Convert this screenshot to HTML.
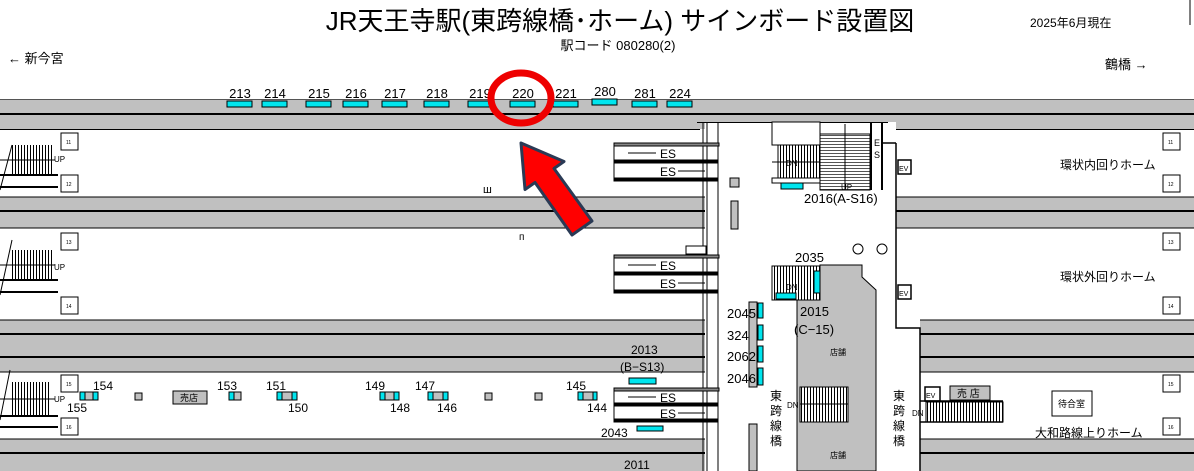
<!DOCTYPE html>
<html><head><meta charset="utf-8"><style>
body{margin:0;background:#fff}
svg{display:block}
text{font-family:"Liberation Sans","Noto Sans CJK JP",sans-serif;fill:#000}
</style></head><body>
<svg width="1194" height="471" viewBox="0 0 1194 471" xmlns="http://www.w3.org/2000/svg">
<defs>
<pattern id="st" width="3" height="10" patternUnits="userSpaceOnUse"><rect width="3" height="10" fill="#fff"/><rect width="1" height="10" fill="#000"/></pattern>
<pattern id="sh" width="10" height="3" patternUnits="userSpaceOnUse"><rect width="10" height="3" fill="#fff"/><rect width="10" height="1" fill="#555"/></pattern>
</defs>
<!-- header -->
<text x="620" y="30" font-size="26" text-anchor="middle">JR天王寺駅(東跨線橋･ホーム) サインボード設置図</text>
<text x="618" y="50" font-size="13" text-anchor="middle">駅コード 080280(2)</text>
<text x="1030" y="27" font-size="12">2025年6月現在</text>
<text x="8" y="63" font-size="13">← 新今宮</text>
<text x="1105" y="69" font-size="13">鶴橋 →</text>
<line x1="1190" y1="0" x2="1190" y2="25" stroke="#000"/>

<!-- bands -->
<rect x="0" y="99" width="1194" height="30" fill="#c0c0c0"/>
<line x1="0" y1="99.5" x2="1194" y2="99.5" stroke="#555"/>
<line x1="0" y1="114" x2="1194" y2="114" stroke="#000" stroke-width="2"/>
<line x1="0" y1="129.5" x2="700" y2="129.5" stroke="#000"/>
<line x1="896" y1="129.5" x2="1194" y2="129.5" stroke="#000"/>

<rect x="0" y="197" width="718" height="31" fill="#c0c0c0"/>
<rect x="896" y="197" width="298" height="31" fill="#c0c0c0"/>
<line x1="0" y1="211" x2="718" y2="211" stroke="#000" stroke-width="2"/>
<line x1="896" y1="211" x2="1194" y2="211" stroke="#000" stroke-width="2"/>
<line x1="0" y1="197" x2="718" y2="197" stroke="#000"/><line x1="896" y1="197" x2="1194" y2="197" stroke="#000"/>
<line x1="0" y1="228" x2="718" y2="228" stroke="#000"/><line x1="896" y1="228" x2="1194" y2="228" stroke="#000"/>

<rect x="0" y="320" width="718" height="52" fill="#c0c0c0"/>
<rect x="920" y="320" width="274" height="52" fill="#c0c0c0"/>
<line x1="0" y1="320" x2="718" y2="320" stroke="#000"/><line x1="920" y1="320" x2="1194" y2="320" stroke="#000"/>
<line x1="0" y1="334" x2="718" y2="334" stroke="#000" stroke-width="2"/><line x1="920" y1="334" x2="1194" y2="334" stroke="#000" stroke-width="2"/>
<line x1="0" y1="357" x2="718" y2="357" stroke="#000" stroke-width="2"/><line x1="920" y1="357" x2="1194" y2="357" stroke="#000" stroke-width="2"/>
<line x1="0" y1="372" x2="718" y2="372" stroke="#000"/><line x1="920" y1="372" x2="1194" y2="372" stroke="#000"/>

<rect x="0" y="439" width="718" height="32" fill="#c0c0c0"/>
<rect x="920" y="439" width="274" height="32" fill="#c0c0c0"/>
<line x1="0" y1="439" x2="718" y2="439" stroke="#000"/><line x1="920" y1="439" x2="1194" y2="439" stroke="#000"/>
<line x1="0" y1="453" x2="718" y2="453" stroke="#000" stroke-width="2"/><line x1="920" y1="453" x2="1194" y2="453" stroke="#000" stroke-width="2"/>

<!-- central bridge area -->
<rect x="705" y="122" width="191" height="198" fill="#fff"/>
<rect x="705" y="300" width="215" height="171" fill="#fff"/>
<line x1="697" y1="122.5" x2="888" y2="122.5" stroke="#000"/>
<line x1="703" y1="122" x2="703" y2="471" stroke="#000"/>
<line x1="707" y1="122" x2="707" y2="471" stroke="#000"/>
<line x1="718" y1="122" x2="718" y2="471" stroke="#000"/>
<polyline points="896,143 896,328 920,328 920,471" fill="none" stroke="#000" stroke-width="1.5"/>
<polyline points="882,143 896,143" fill="none" stroke="#000" stroke-width="1.5"/>

<!-- upper stairs -->
<rect x="772" y="122" width="48" height="23" fill="#fff" stroke="#000"/>
<rect x="778" y="145" width="42" height="33" fill="url(#st)" stroke="#000"/>
<line x1="772" y1="162" x2="820" y2="162" stroke="#000"/>
<rect x="772" y="178" width="48" height="5" fill="#fff" stroke="#000"/>
<rect x="820" y="134" width="50" height="56" fill="url(#sh)" stroke="#000"/>
<line x1="845" y1="124" x2="845" y2="190" stroke="#000"/>
<line x1="871" y1="122" x2="871" y2="190" stroke="#000" stroke-width="2"/>
<line x1="882" y1="122" x2="882" y2="190" stroke="#000" stroke-width="2"/>
<text x="874" y="146" font-size="9" fill="#333">E</text><text x="874" y="158" font-size="9" fill="#333">S</text>
<text x="786" y="166" font-size="8">DN</text>
<text x="841" y="190" font-size="8">UP</text>
<rect x="781" y="183" width="22" height="6" fill="#00e5ee" stroke="#000"/>
<text x="804" y="203" font-size="13">2016(A-S16)</text>
<rect x="898" y="160" width="13" height="14" fill="#fff" stroke="#000" stroke-width="1.5"/><text x="899" y="171" font-size="7">EV</text>
<rect x="898" y="285" width="13" height="14" fill="#fff" stroke="#000" stroke-width="1.5"/><text x="899" y="296" font-size="7">EV</text>
<rect x="730" y="178" width="9" height="9" fill="#c0c0c0" stroke="#000"/>
<rect x="731" y="201" width="7" height="28" fill="#c0c0c0" stroke="#000"/>
<circle cx="858" cy="249" r="5" fill="#fff" stroke="#000"/>
<circle cx="882" cy="249" r="5" fill="#fff" stroke="#000"/>

<!-- shop block -->
<polygon points="797,300 797,471 876,471 876,290 862,277 862,265 820,265 820,300" fill="#c0c0c0" stroke="#000"/>
<rect x="772" y="266" width="48" height="34" fill="url(#st)" stroke="#000"/>
<rect x="776" y="293" width="20" height="6" fill="#00e5ee" stroke="#000"/>
<rect x="814" y="271" width="6" height="22" fill="#00e5ee" stroke="#000"/>
<text x="795" y="262" font-size="13">2035</text>
<text x="786" y="290" font-size="8">DN</text>
<text x="800" y="316" font-size="13">2015</text>
<text x="794" y="334" font-size="13">(C−15)</text>
<text x="830" y="355" font-size="8">店舗</text>
<text x="830" y="458" font-size="8">店舗</text>
<rect x="800" y="387" width="48" height="35" fill="url(#st)" stroke="#000"/>
<line x1="800" y1="404" x2="848" y2="404" stroke="#000"/>
<text x="787" y="408" font-size="8">DN</text>

<!-- pillar signs -->
<rect x="749" y="302" width="8" height="85" fill="#c0c0c0" stroke="#000"/>
<rect x="758" y="303" width="5" height="15" fill="#00e5ee" stroke="#000"/>
<rect x="758" y="325" width="5" height="15" fill="#00e5ee" stroke="#000"/>
<rect x="758" y="346" width="5" height="16" fill="#00e5ee" stroke="#000"/>
<rect x="758" y="368" width="5" height="17" fill="#00e5ee" stroke="#000"/>
<text x="727" y="318" font-size="13">2045</text>
<text x="727" y="340" font-size="13">324</text>
<text x="727" y="361" font-size="13">2062</text>
<text x="727" y="383" font-size="13">2046</text>
<rect x="749" y="424" width="8" height="47" fill="#c0c0c0" stroke="#000"/>
<text x="770" y="400" font-size="12">東</text><text x="770" y="415" font-size="12">跨</text><text x="770" y="430" font-size="12">線</text><text x="770" y="445" font-size="12">橋</text>
<text x="893" y="400" font-size="12">東</text><text x="893" y="415" font-size="12">跨</text><text x="893" y="430" font-size="12">線</text><text x="893" y="445" font-size="12">橋</text>

<!-- right bottom -->
<rect x="925" y="387" width="15" height="14" fill="#fff" stroke="#000" stroke-width="1.5"/><text x="926" y="398" font-size="7">EV</text>
<rect x="950" y="386" width="40" height="14" fill="#c0c0c0" stroke="#000"/><text x="957" y="397" font-size="10">売 店</text>
<rect x="926" y="402" width="77" height="20" fill="url(#st)" stroke="#000"/>
<line x1="920" y1="401" x2="1003" y2="401" stroke="#000" stroke-width="1.5"/>
<line x1="920" y1="422" x2="1003" y2="422" stroke="#000" stroke-width="1.5"/>
<text x="912" y="416" font-size="8">DN</text>
<rect x="1052" y="391" width="40" height="25" fill="#fff" stroke="#000"/><text x="1058" y="407" font-size="9">待合室</text>
<text x="1035" y="437" font-size="12">大和路線上りホーム</text>
<text x="1060" y="169" font-size="12">環状内回りホーム</text>
<text x="1060" y="281" font-size="12">環状外回りホーム</text>

<!-- platform number boxes -->
<g fill="#fff" stroke="#000">
<rect x="1163" y="133" width="17" height="17"/><rect x="1163" y="175" width="17" height="17"/>
<rect x="1163" y="233" width="17" height="17"/><rect x="1163" y="297" width="17" height="17"/>
<rect x="1163" y="375" width="17" height="17"/><rect x="1163" y="418" width="17" height="17"/>
<rect x="61" y="133" width="17" height="17"/><rect x="61" y="175" width="17" height="17"/>
<rect x="61" y="233" width="17" height="17"/><rect x="61" y="297" width="17" height="17"/>
<rect x="61" y="375" width="17" height="17"/><rect x="61" y="418" width="17" height="17"/>
</g>
<g font-size="5">
<text x="1168" y="144">11</text><text x="1168" y="186">12</text><text x="1168" y="244">13</text><text x="1168" y="308">14</text><text x="1168" y="386">15</text><text x="1168" y="429">16</text>
<text x="66" y="144">11</text><text x="66" y="186">12</text><text x="66" y="244">13</text><text x="66" y="308">14</text><text x="66" y="386">15</text><text x="66" y="429">16</text>
</g>

<!-- left stairs -->
<g>
<rect x="12" y="145" width="40" height="30" fill="url(#st)"/>
<line x1="0" y1="175" x2="58" y2="175" stroke="#000" stroke-width="2"/><line x1="0" y1="187" x2="58" y2="187" stroke="#000" stroke-width="2"/>
<line x1="12" y1="145" x2="0" y2="190" stroke="#000"/><line x1="0" y1="160" x2="55" y2="160" stroke="#000"/>
<text x="54" y="162" font-size="8" fill="#036">UP</text>
<rect x="12" y="250" width="40" height="30" fill="url(#st)"/>
<line x1="0" y1="280" x2="58" y2="280" stroke="#000" stroke-width="2"/><line x1="0" y1="292" x2="58" y2="292" stroke="#000" stroke-width="2"/>
<line x1="12" y1="240" x2="0" y2="295" stroke="#000"/><line x1="0" y1="265" x2="55" y2="265" stroke="#000"/>
<text x="54" y="270" font-size="8" fill="#036">UP</text>
<rect x="10" y="382" width="40" height="33" fill="url(#st)"/>
<line x1="0" y1="416" x2="58" y2="416" stroke="#000" stroke-width="2"/><line x1="0" y1="427" x2="58" y2="427" stroke="#000" stroke-width="2"/>
<line x1="10" y1="370" x2="0" y2="420" stroke="#000"/><line x1="0" y1="399" x2="55" y2="399" stroke="#000"/>
<text x="54" y="402" font-size="8" fill="#036">UP</text>
</g>

<!-- escalators -->
<g stroke="#000" fill="none">
<rect x="614" y="143" width="93" height="38"/><rect x="614" y="143" width="105" height="3" fill="#888"/>
<rect x="614" y="160" width="104" height="3" fill="#000"/><rect x="614" y="178" width="104" height="3" fill="#000"/>
<rect x="614" y="255" width="93" height="38"/><rect x="614" y="255" width="105" height="3" fill="#888"/>
<rect x="614" y="272" width="104" height="3" fill="#000"/><rect x="614" y="290" width="104" height="3" fill="#000"/>
<rect x="614" y="388" width="93" height="34"/><rect x="614" y="388" width="105" height="3" fill="#888"/>
<rect x="614" y="403" width="104" height="3" fill="#000"/><rect x="614" y="419" width="104" height="3" fill="#000"/>
</g>
<g font-size="12">
<text x="660" y="158">ES</text><text x="660" y="176">ES</text>
<text x="660" y="270">ES</text><text x="660" y="288">ES</text>
<text x="660" y="402">ES</text><text x="660" y="418">ES</text>
</g>
<g stroke="#000">
<line x1="628" y1="153" x2="656" y2="153"/><line x1="678" y1="171" x2="705" y2="171"/>
<line x1="628" y1="265" x2="656" y2="265"/><line x1="678" y1="283" x2="705" y2="283"/>
<line x1="628" y1="397" x2="656" y2="397"/><line x1="678" y1="413" x2="705" y2="413"/>
</g>
<rect x="686" y="246" width="20" height="8" fill="#fff" stroke="#000"/>
<text x="483" y="193" font-size="11">ш</text>
<text x="519" y="240" font-size="10">п</text>

<!-- top signs -->
<g fill="#00e5ee" stroke="#000">
<rect x="227" y="101" width="25" height="6"/><rect x="262" y="101" width="25" height="6"/>
<rect x="306" y="101" width="25" height="6"/><rect x="343" y="101" width="25" height="6"/>
<rect x="382" y="101" width="25" height="6"/><rect x="424" y="101" width="25" height="6"/>
<rect x="468" y="101" width="25" height="6"/><rect x="510" y="101" width="25" height="6"/>
<rect x="553" y="101" width="25" height="6"/><rect x="592" y="99" width="25" height="6"/>
<rect x="632" y="101" width="25" height="6"/><rect x="667" y="101" width="25" height="6"/>
</g>
<g font-size="13" text-anchor="middle">
<text x="240" y="98">213</text><text x="275" y="98">214</text><text x="319" y="98">215</text><text x="356" y="98">216</text>
<text x="395" y="98">217</text><text x="437" y="98">218</text><text x="480" y="98">219</text><text x="523" y="98">220</text>
<text x="566" y="98">221</text><text x="605" y="96">280</text><text x="645" y="98">281</text><text x="680" y="98">224</text>
</g>

<!-- bottom platform signs -->
<g fill="#c0c0c0" stroke="#000">
<rect x="80" y="392" width="16" height="8"/><rect x="135" y="393" width="7" height="7"/>
<rect x="229" y="392" width="12" height="8"/><rect x="277" y="392" width="18" height="8"/>
<rect x="380" y="392" width="17" height="8"/><rect x="428" y="392" width="18" height="8"/>
<rect x="485" y="393" width="7" height="7"/><rect x="535" y="393" width="7" height="7"/>
<rect x="578" y="392" width="18" height="8"/>
</g>
<g fill="#00e5ee" stroke="#000">
<rect x="80" y="392" width="5" height="8"/><rect x="93" y="392" width="5" height="8"/>
<rect x="229" y="392" width="5" height="8"/>
<rect x="277" y="392" width="5" height="8"/><rect x="292" y="392" width="5" height="8"/>
<rect x="380" y="392" width="5" height="8"/><rect x="394" y="392" width="5" height="8"/>
<rect x="428" y="392" width="5" height="8"/><rect x="443" y="392" width="5" height="8"/>
<rect x="578" y="392" width="5" height="8"/><rect x="593" y="392" width="4" height="8"/>
<rect x="629" y="378" width="27" height="6"/><rect x="637" y="426" width="26" height="5"/>
</g>
<rect x="173" y="391" width="34" height="13" fill="#c0c0c0" stroke="#000"/><text x="180" y="401" font-size="9">売店</text>
<g font-size="12">
<text x="93" y="390">154</text><text x="67" y="412">155</text>
<text x="217" y="390">153</text><text x="266" y="390">151</text><text x="288" y="412">150</text>
<text x="365" y="390">149</text><text x="390" y="412">148</text><text x="415" y="390">147</text><text x="437" y="412">146</text>
<text x="566" y="390">145</text><text x="587" y="412">144</text>
<text x="631" y="354">2013</text><text x="620" y="371">(B−S13)</text>
<text x="601" y="437">2043</text><text x="624" y="469">2011</text>
</g>

<!-- red circle + arrow -->
<ellipse cx="521" cy="98" rx="30" ry="25" fill="none" stroke="#e00" stroke-width="7"/>
<polygon points="521,143 564,161.5 554,168.5 592,221 572,235 535,182.5 525,189.5" fill="#f00" stroke="#2a3a55" stroke-width="3" stroke-linejoin="round"/>
</svg>
</body></html>
